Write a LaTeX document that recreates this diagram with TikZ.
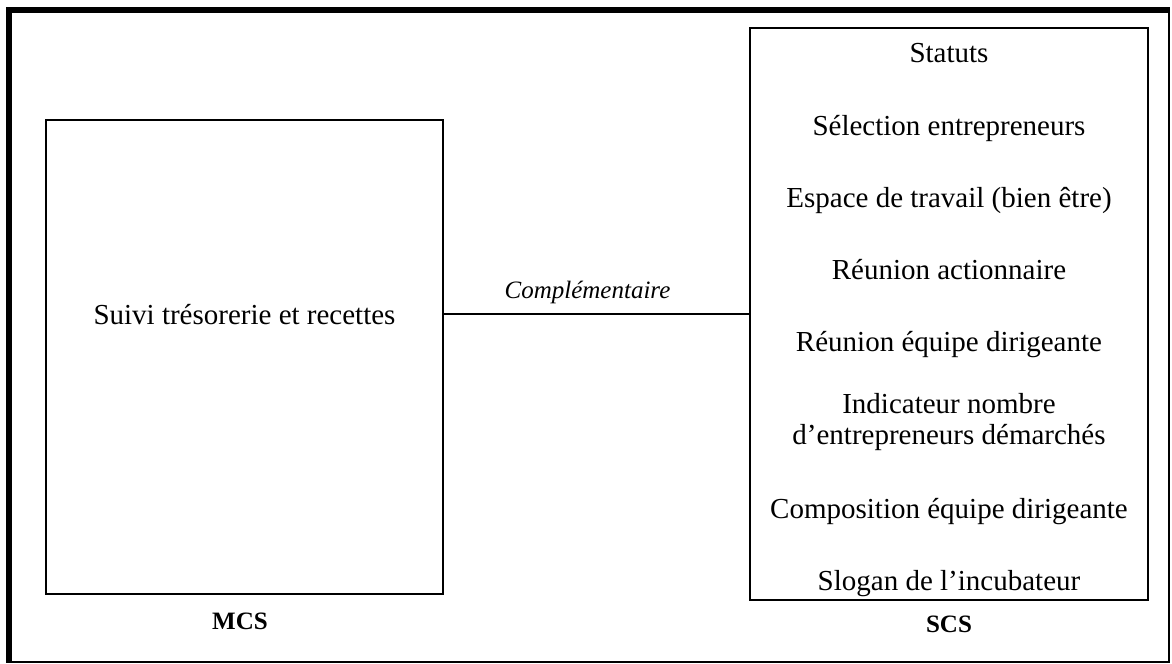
\documentclass[tikz,border=0pt]{standalone}
\usepackage{fontspec}
\setmainfont{Liberation Serif}
\begin{document}
\begin{tikzpicture}[x=0.75pt,y=-0.75pt,
  box/.style={draw=black,line width=1.5pt},
  body/.style={font=\fontsize{21.75}{26}\selectfont,anchor=base,inner sep=0pt},
  caption/.style={font=\fontsize{18.75}{22}\selectfont\bfseries,anchor=base,inner sep=0pt},
  linklabel/.style={font=\fontsize{18.75}{22}\selectfont\itshape,anchor=base,inner sep=0pt}]
\useasboundingbox (0,0) rectangle (1172,664);
% outer frame: heavy top and left edges, thin right and bottom edges
\fill[black] (6,7) rectangle (1170,13);
\fill[black] (6,7) rectangle (12,663);
\draw[line width=1.5pt] (12,662) -- (1169,662) -- (1169,13);
% MCS box
\node[box,minimum width=397*0.75pt,minimum height=474*0.75pt,inner sep=0pt] (mcs) at (244.5,357) {};
\node[body] (mcstext) at (244.5,324) {Suivi trésorerie et recettes};
\node[caption] (mcslabel) at (240,629) {MCS};
% SCS box
\node[box,minimum width=398*0.75pt,minimum height=572*0.75pt,inner sep=0pt] (scs) at (949,314) {};
\node[body] (s1) at (949,62) {Statuts};
\node[body] (s2) at (949,135) {Sélection entrepreneurs};
\node[body] (s3) at (949,207) {Espace de travail (bien être)};
\node[body] (s4) at (949,279) {Réunion actionnaire};
\node[body] (s5) at (949,351) {Réunion équipe dirigeante};
\node[body] (s6a) at (949,413) {Indicateur nombre};
\node[body] (s6b) at (949,444) {d’entrepreneurs démarchés};
\node[body] (s7) at (949,518) {Composition équipe dirigeante};
\node[body] (s8) at (949,590) {Slogan de l’incubateur};
\node[caption] (scslabel) at (949,632) {SCS};
% link between the two boxes
\coordinate (linky) at (596,314);
\draw[line width=1.5pt] (mcs.east |- linky) -- (scs.west |- linky);
\node[linklabel] (link) at (587.5,298) {Complémentaire};
\end{tikzpicture}
\end{document}
